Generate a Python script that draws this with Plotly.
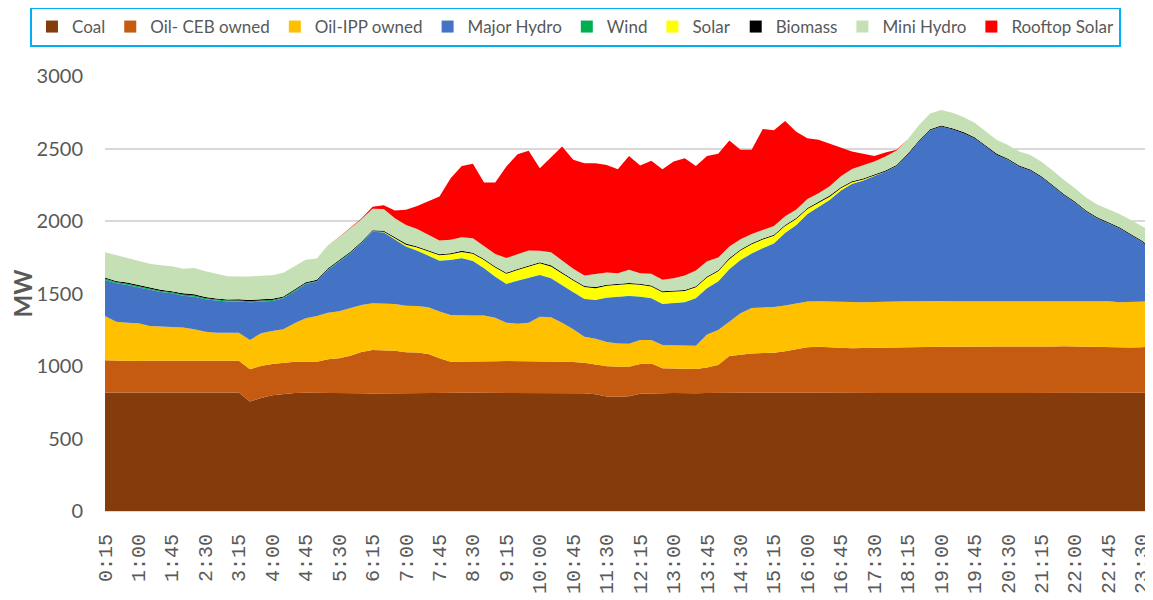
import plotly.graph_objects as go

# 15-minute time slots 0:15 ... 23:45
times = []
for k in range(1, 96):
    m = 15 * k
    times.append(f"{m // 60}:{m % 60:02d}")

coal = [818, 818, 815, 817, 818, 816, 815, 815, 817, 818, 818, 817, 818,
        755, 780, 798, 808, 814, 815,
        815, 816, 817, 816, 812, 810, 811, 812, 815, 815, 815, 816,
        815, 815, 815, 815, 815, 815, 815, 815, 815, 814, 815, 814, 812,
        805, 790, 788, 792, 808, 812,
        812, 813, 810, 812, 813, 812, 813,
        815, 815, 816, 815, 816, 815, 815, 815, 814, 815, 815, 814, 813, 814, 813, 813, 814, 814, 815,
        815, 814, 814, 813, 813, 814, 815, 815, 815, 814, 813, 813, 814, 814, 813, 813, 814, 814, 815]

oil_ceb = [222, 220, 220, 218, 219, 220, 220, 220, 219, 218, 219, 220, 219,
           222, 220, 216, 215, 216, 215,
           215, 230, 236, 255, 285, 300, 299, 294, 280, 278, 268, 237,
           215, 217, 217, 218, 218, 219, 219, 219, 217, 216, 215, 214, 211,
           206, 208, 207, 203, 206, 206,
           172, 168, 167, 167, 176, 195, 256,
           263, 272, 274, 277, 285, 300, 314, 318, 315, 309, 307, 310, 313, 312, 314, 315, 316, 317, 318,
           318, 318, 318, 320, 321, 320, 318, 318, 319, 321, 323, 321, 319, 319, 319, 317, 314, 316, 317]

oil_ipp = [305, 268, 264, 259, 239, 236, 235, 230, 217, 201, 193, 193, 193,
           202, 225, 227, 230, 264, 299,
           315, 322, 324, 327, 324, 322, 322, 322, 321, 321, 322, 322,
           322, 317, 317, 316, 300, 265, 258, 265, 308, 306, 269, 225, 179,
           177, 168, 161, 159, 165, 161,
           161, 161, 165, 161, 229, 241, 237,
           285, 313, 312, 315, 317, 317, 315, 313, 315, 315, 315, 315, 315, 318, 317, 318, 316, 317, 315,
           313, 314, 315, 314, 312, 312, 314, 315, 314, 314, 314, 314, 314, 314, 314, 310, 314, 315, 314]

major_hydro = [248, 264, 260, 249, 248, 238, 231, 220, 225, 223, 221, 214, 214,
               260, 219, 207, 214, 219, 237,
               237, 294, 343, 379, 425, 494, 488, 446, 407, 381, 354, 351,
               379, 394, 375, 325, 283, 267, 296, 310, 288, 269, 255, 255, 260,
               267, 305, 322, 329, 299, 288,
               283, 290, 297, 327, 318, 334, 361,
               367, 375, 410, 438, 500, 540, 604, 649, 701, 771, 819, 840, 867, 896, 934, 1009, 1102, 1176, 1203,
               1186, 1159, 1123, 1066, 1009, 975, 928, 900, 853, 792, 729, 678, 617, 571, 538, 509, 461, 412, 349]

wind = [10, 10, 9, 9, 9, 8, 8, 8, 8, 8, 8, 8, 8, 8, 7, 7, 6, 6, 5, 5, 5, 4, 4, 4,
        2, 2, 2, 2, 2, 2, 2, 2, 2, 2, 2, 2, 2, 2, 2, 2, 2, 2, 2, 2, 2, 2, 2, 2, 2, 2,
        2, 2, 2, 2, 2, 2, 2, 2, 2, 2, 2,
        1, 1, 1, 1, 1, 1, 1, 1, 1, 1, 1, 1, 1, 1, 1, 1, 1, 1, 1, 1, 1, 1, 1, 1, 1, 1,
        1, 1, 1, 1, 1, 1, 1, 1]

solar = [0, 0, 0, 0, 0, 0, 0, 0, 0, 0, 0, 0, 0, 0, 0, 0, 0, 0, 0, 0, 0, 0, 0, 0,
         1, 3, 7, 12, 20, 28, 35, 38, 42, 48, 55, 62, 68, 72, 75, 78,
         80, 80, 80, 80, 80, 80, 80, 80, 80, 80,
         78, 78, 76, 74, 72, 70, 68, 65, 62, 58, 52, 46, 40, 33, 27, 22, 15, 10, 6, 3, 1,
         0, 0, 0, 0, 0, 0, 0, 0, 0, 0, 0, 0, 0, 0, 0, 0, 0, 0, 0, 0, 0, 0, 0, 0]

biomass = [7, 7, 7, 7, 7, 7, 7, 9, 9, 7, 7, 7, 9, 9, 9, 9,
           7, 7, 7, 7, 7, 7, 7, 7, 7, 7, 7, 7, 7, 7, 7, 7, 7, 7, 7, 7, 7, 7, 7, 7,
           7, 7, 7, 7, 7, 7, 7, 7, 7, 7, 7, 7, 7, 7, 7, 7, 7, 7, 7, 7, 7, 7, 7, 7,
           7, 7, 7, 7, 7, 7, 7, 7, 7, 7, 7, 7, 7, 7, 7, 7, 7, 7, 7, 7, 7, 7, 7, 7,
           7, 7, 7, 7, 7, 7, 7]

mini_hydro = [175, 178, 170, 162, 165, 170, 172, 168, 180, 178, 172, 160, 156,
              161, 163, 162, 163, 160, 155, 148, 158, 157, 160, 155, 148, 150,
              129, 129, 120, 108, 95, 92, 94, 100, 86, 86, 102, 102, 103,
              80, 91, 84, 73, 73, 89, 85, 73, 91, 73, 80, 79, 87, 100, 108, 105, 87,
              80, 70, 65, 62, 60, 60, 60, 62, 62, 65, 75, 85, 90, 92, 95, 100, 100, 105, 110, 107,
              107, 104, 100, 98, 96, 95, 97, 99, 100, 100, 97, 92, 90, 88, 90, 92, 96, 102, 120]

rooftop_solar = [0, 0, 0, 0, 0, 0, 0, 0, 0, 0, 0, 0, 0, 0, 0, 0, 0, 0, 0, 0, 0,
                 2, 3, 5, 14, 27, 53, 104, 160, 230, 304, 425, 492, 513, 441, 492, 631, 690, 688,
                 569, 655, 787, 752, 775, 766, 742, 717, 786, 743, 779, 763, 804, 809, 722, 727, 715,
                 732, 617, 580, 694, 660, 658, 535, 419, 368, 292, 194, 120, 80, 38, 28, 5,
                 0, 0, 0, 0, 0, 0, 0, 0, 0, 0, 0, 0, 0, 0, 0, 0, 0, 0, 0, 0, 0, 0, 0]

series_names = ["Coal", "Oil- CEB owned", "Oil-IPP owned", "Major Hydro", "Wind",
                "Solar", "Biomass", "Mini Hydro", "Rooftop Solar"]
series_values = [coal, oil_ceb, oil_ipp, major_hydro, wind, solar, biomass,
                 mini_hydro, rooftop_solar]
series_colors = ["#843C0C", "#C55A11", "#FFC000", "#4472C4", "#00B050",
                 "#FFFF00", "#000000", "#C5E0B4", "#FF0000"]

tick_labels = times[::3]

fig = go.Figure()
for name, vals, col in zip(series_names, series_values, series_colors):
    fig.add_trace(go.Scatter(
        x=times, y=vals, name=name, stackgroup="one", mode="lines",
        line=dict(width=0, color=col), fillcolor=col, showlegend=False,
        hoverinfo="x+y+name"))
# legend entries with square symbols
for name, col in zip(series_names, series_colors):
    fig.add_trace(go.Scatter(
        x=[None], y=[None], name=name, mode="markers",
        marker=dict(symbol="square", size=12, color=col), showlegend=True))

# the page body adds an 8px offset, so the figure is 8px smaller than the window
fig.update_layout(
    width=1145, height=592,
    margin=dict(l=97, r=0, t=68, b=89, autoexpand=False),
    paper_bgcolor="white", plot_bgcolor="white",
    font=dict(family="Lato", color="#595959"),
    legend=dict(
        orientation="h", x=-0.0716, xanchor="left", y=1.1586, yanchor="top",
        bordercolor="#00B0F0", borderwidth=2, bgcolor="white",
        font=dict(family="Lato", size=17, color="#595959"),
        traceorder="normal", itemclick=False),
    showlegend=True,
)
fig.update_xaxes(
    type="category", range=[0, len(times) - 1],
    tickmode="array", tickvals=tick_labels, ticktext=tick_labels,
    tickangle=-90, tickfont=dict(family="Liberation Mono", size=20, color="#595959"),
    showgrid=False, showline=True, linecolor="#D9D9D9", linewidth=1,
    ticks="outside", ticklen=14, tickcolor="rgba(0,0,0,0)", zeroline=False,
    automargin=False)
fig.update_yaxes(
    range=[0, 3000], tickmode="array", tickvals=[0, 500, 1000, 1500, 2000, 2500, 3000],
    tickfont=dict(family="Lato", size=20, color="#595959"),
    showgrid=True, gridcolor="#D9D9D9", gridwidth=1.5, zeroline=False,
    ticks="outside", ticklen=17, tickcolor="rgba(0,0,0,0)", automargin=False,
    title=dict(text="<b>MW</b>", font=dict(family="Lato", size=24, color="#595959"), standoff=20))

fig.write_html("out.html")
